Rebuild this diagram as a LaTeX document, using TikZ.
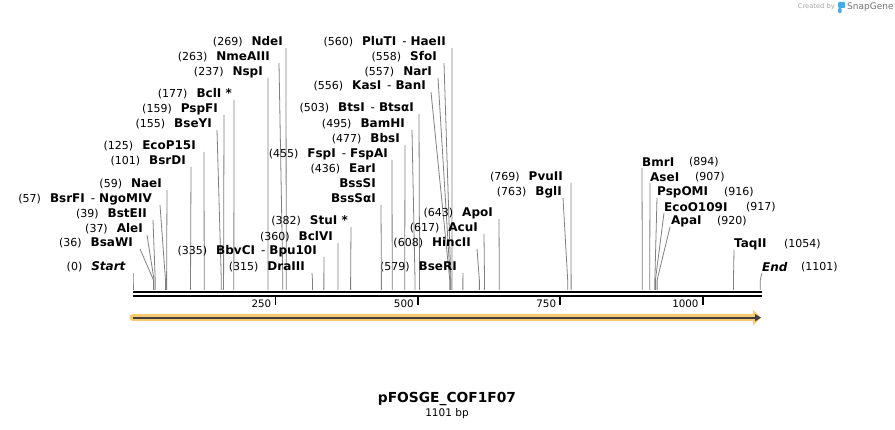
\documentclass[tikz,border=0pt]{standalone}
\usepackage{fontspec}
\setmainfont{DejaVu Sans}
\usetikzlibrary{arrows.meta}

\definecolor{featorange}{RGB}{250,200,110}
\definecolor{logoblue}{RGB}{72,170,230}
\newcommand\nm[1]{{\fontsize{11}{13}\selectfont\mdseries(#1)}}
\newcommand\dsh{\hspace{6pt}{\mdseries-}\hspace{4pt}}

\tikzset{
  cut/.style={draw=black!50,line width=0.8pt},
  enz/.style={inner sep=0pt,font=\fontsize{12}{14}\selectfont\bfseries},
  num/.style={inner sep=0pt,font=\fontsize{11}{13}\selectfont},
}

\begin{document}
\begin{tikzpicture}[x=1pt,y=-1pt,declare function={px(\p)=133+0.5697*\p;}]
	\useasboundingbox (0,0) rectangle (895,430);
	% enzymes whose label sits left of the line
	\foreach \n/\p/\ly/\ex/\lx/\t in {
		Start/0/267/126/133/{\textit{Start}},
		BsaWI/36/243/133/140/BsaWI,
		AleI/37/229/143/147/AleI,
		BstEII/39/214/147/153/BstEII,
		BsrFI/57/199/152/160/{BsrFI\dsh NgoMIV},
		NaeI/59/184/162/167/NaeI,
		BsrDI/101/161/186/191/BsrDI,
		EcoPI/125/146/196/204/EcoP15I,
		BseYI/155/124/212/217/BseYI,
		PspFI/159/109/218/224/PspFI,
		BclI/177/94/232/234/{BclI *},
		NspI/237/72/263/268/NspI,
		NmeAIII/263/57/270/279/NmeAIII,
		NdeI/269/42/283/286/NdeI,
		DraIII/315/267/305/312/DraIII,
		BbvCI/335/251/317/324/{BbvCI\dsh Bpu10I},
		BclVI/360/237/333/338/BclVI,
		StuI/382/221/348/351/{StuI *},
		FspI/455/154/388/392/{FspI\dsh FspAI},
		BbsI/477/139/400/405/BbsI,
		BamHI/495/124/405/412/BamHI,
		BtsI/503/108/414/419/{BtsI\dsh BtsαI},
		KasI/556/86/426/431/{KasI\dsh BanI},
		NarI/557/72/432/438/NarI,
		SfoI/558/57/437/444/SfoI,
		PluTI/560/42/446/452/{PluTI\dsh HaeII},
		BseRI/579/267/457/463/BseRI,
		HincII/608/243/471/477/HincII,
		AcuI/617/228/478/484/AcuI,
		ApoI/643/213/493/499/ApoI,
		BglI/763/192/562/563/BglI,
		PvuII/769/177/563/571/PvuII}
	{
		\coordinate (t\n) at (\lx,\ly+6);
		\coordinate (k\n) at ({px(\p)},280);
		\coordinate (c\n) at ({px(\p)},290);
		\node[enz,anchor=east] (l\n) at (\ex,\ly) {\nm{\p}\hspace{9pt}\t};
		\draw[cut] (t\n) -- (k\n) -- (c\n);
	}
	% three names on one site
	\node[enz,anchor=east] (lEarI) at (376,169) {\nm{436}\hspace{9pt}EarI};
	\node[enz,anchor=east] (lBssSI) at (376,183) {BssSI};
	\node[enz,anchor=east] (lBssSaI) at (376,198) {BssSαI};
	\coordinate (tEarI) at (381,205);
	\coordinate (kEarI) at ({px(436)},280);
	\coordinate (cEarI) at ({px(436)},290);
	\draw[cut] (tEarI) -- (kEarI) -- (cEarI);
	% enzymes whose label sits right of the line
	\foreach \n/\p/\ly/\sx/\lx/\nx/\t in {
		BmrI/894/162/642/642/689/BmrI,
		AseI/907/177/650/650/695/AseI,
		PspOMI/916/192/657/657/724/PspOMI,
		EcoOI/917/207/664/664/746/EcoO109I,
		ApaI/920/221/671/670/717/ApaI,
		TaqII/1054/244/734/734/784/TaqII,
		End/1101/267/762/762/801/{\textit{End}}}
	{
		\coordinate (t\n) at (\lx,\ly+6);
		\coordinate (k\n) at ({px(\p)},280);
		\coordinate (c\n) at ({px(\p)},290);
		\node[enz,anchor=west] (r\n) at (\sx,\ly) {\t};
		\node[num,anchor=west] (q\n) at (\nx,\ly) {(\p)};
		\draw[cut] (t\n) -- (k\n) -- (c\n);
	}
	% sequence ruler
	\coordinate (s0) at (133,292);
	\coordinate (s1) at (762,292);
	\coordinate (b0) at (133,296);
	\coordinate (b1) at (762,296);
	\draw[line width=2.2pt] (s0) -- (s1);
	\draw[line width=2.2pt] (b0) -- (b1);
	\foreach \t in {250,500,750,1000}
	{
		\draw[line width=1.6pt] ({px(\t)},296) -- ++(0,9);
		\node[num,anchor=base east,font=\fontsize{10.3}{12}\selectfont] (tick\t) at ({px(\t)-4},307.5) {\t};
	}
	% feature arrow
	\coordinate (f0) at (133,317.7);
	\coordinate (f1) at (761,317.7);
	\draw[line width=7pt,featorange,line cap=round,-{Triangle[length=8pt,width=15pt]}] (f0) -- (f1);
	\draw[line width=1.8pt,black!75,-{Triangle[length=6pt,width=7pt]}] (f0) -- (f1);
	% name and size
	\node[inner sep=0pt,font=\fontsize{13.8}{16}\selectfont\bfseries] (title) at (447,399) {pFOSGE\_COF1F07};
	\node[num,font=\fontsize{10.5}{12}\selectfont] (size) at (447,414) {1101 bp};
	% logo
	\node[inner sep=0pt,anchor=east,text=black!35,font=\fontsize{6.7}{8}\selectfont] (made) at (835,7) {Created by};
	\fill[logoblue,rounded corners=1pt] (838,2) rectangle (845,8) (838,8) rectangle (841.5,13);
	\node[inner sep=0pt,anchor=west,text=black!55,font=\fontsize{9}{10}\selectfont] (brand) at (847,7) {SnapGene};
\end{tikzpicture}
\end{document}
